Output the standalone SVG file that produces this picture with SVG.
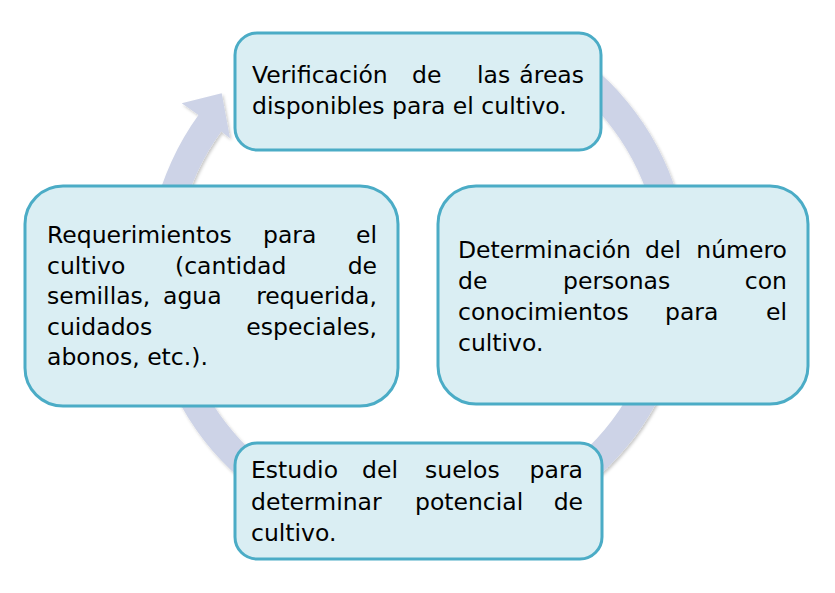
<svg xmlns="http://www.w3.org/2000/svg" width="835" height="593" viewBox="0 0 835 593">
<defs>
<filter id="sh" x="-10%" y="-10%" width="120%" height="120%">
<feDropShadow dx="1.5" dy="2" stdDeviation="1.5" flood-color="#000" flood-opacity="0.22"/>
</filter>
</defs>
<style>
.box{fill:#DAEEF3;stroke:#4BACC6;stroke-width:3}
.t{font-family:"DejaVu Sans",sans-serif;font-size:23.5px;fill:#000}
.e{text-anchor:end}
.ring{fill:#CDD3E7}
</style>
<rect width="835" height="593" fill="#fff"/>
<g id="connectors">
<path class="ring" filter="url(#sh)" d="M 567.6 48.0 A 271 271 0 1 1 198.5 115.1 L 181.7 103.3 L 221.7 93.3 L 230 138.3 L 221.2 131.5 A 243 243 0 1 0 552.1 71.4 Z"/>
</g>
<g id="node1">
<rect class="box" x="235" y="33" width="366" height="117" rx="22" ry="22"/>
<text class="t" y="83"><tspan x="252">Verificación</tspan><tspan x="412">de</tspan><tspan x="477">las</tspan></text>
<text class="t e" x="584" y="83">áreas</text>
<text class="t" x="252" y="114">disponibles para el cultivo.</text>
</g>
<g id="node2">
<rect class="box" x="438" y="186" width="370" height="218" rx="38" ry="38"/>
<text class="t" y="258"><tspan x="458">Determinación</tspan><tspan x="645">del</tspan></text>
<text class="t e" x="787" y="258">número</text>
<text class="t" y="289"><tspan x="458">de</tspan><tspan x="563">personas</tspan></text>
<text class="t e" x="787" y="289">con</text>
<text class="t" y="320"><tspan x="458">conocimientos</tspan><tspan x="665">para</tspan></text>
<text class="t e" x="787" y="320">el</text>
<text class="t" x="458" y="351">cultivo.</text>
</g>
<g id="node3">
<rect class="box" x="235" y="443" width="367" height="116" rx="22" ry="22"/>
<text class="t" y="478"><tspan x="251">Estudio</tspan><tspan x="362">del</tspan><tspan x="425">suelos</tspan></text>
<text class="t e" x="583" y="478">para</text>
<text class="t" y="510"><tspan x="251">determinar</tspan><tspan x="415">potencial</tspan></text>
<text class="t e" x="583" y="510">de</text>
<text class="t" x="251" y="541">cultivo.</text>
</g>
<g id="node4">
<rect class="box" x="25" y="186" width="373" height="220" rx="38" ry="38"/>
<text class="t" y="243"><tspan x="47">Requerimientos</tspan><tspan x="263">para</tspan></text>
<text class="t e" x="377" y="243">el</text>
<text class="t" y="274"><tspan x="47">cultivo</tspan><tspan x="175">(cantidad</tspan></text>
<text class="t e" x="377" y="274">de</text>
<text class="t" y="304"><tspan x="47">semillas,</tspan><tspan x="163">agua</tspan></text>
<text class="t e" x="377" y="304">requerida,</text>
<text class="t" y="335"><tspan x="47">cuidados</tspan></text>
<text class="t e" x="377" y="335">especiales,</text>
<text class="t" x="47" y="365">abonos, etc.).</text>
</g>
</svg>
